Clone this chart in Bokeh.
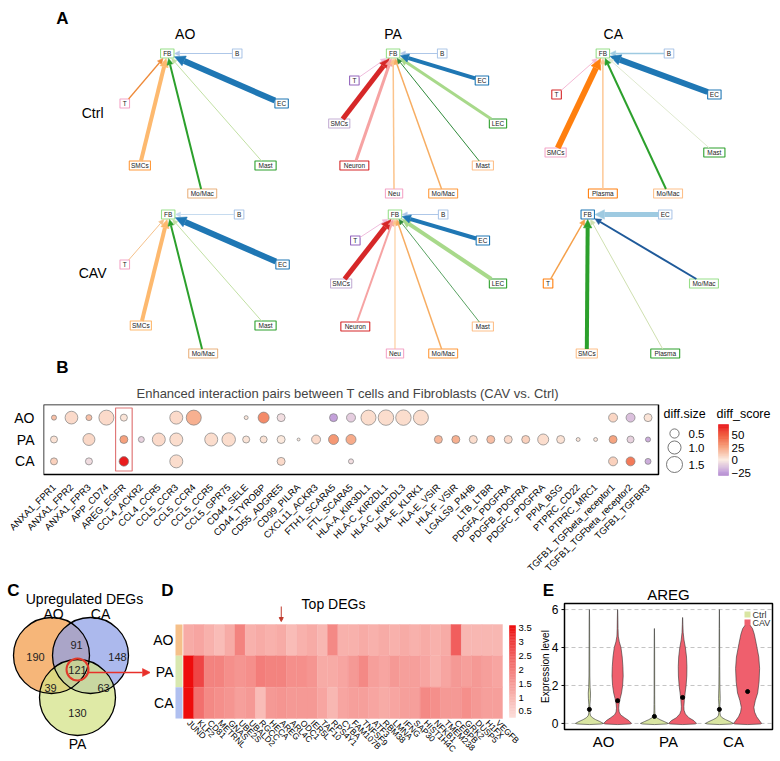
import math
from bokeh.plotting import figure
from bokeh.layouts import column, row
from bokeh.models import Range1d, Arrow, NormalHead, FixedTicker, ColumnDataSource
from bokeh.core.properties import value
from bokeh.transform import linear_cmap
from bokeh.embed import file_html
from bokeh.resources import INLINE

FONT = "Liberation Sans"

# ======================= DATA =======================
# --- Panel A: communication strength (edge weight) of each sender -> FB
A_cols = ["AO", "PA", "CA"]
A_rows = ["Ctrl", "CAV"]
A_ao_senders = ["B", "T", "EC", "SMCs", "Mo/Mac", "Mast"]
A_ao_ctrl = [1.0, 1.3, 6.0, 4.0, 2.0, 1.0]
A_ao_cav = [1.0, 1.0, 6.0, 4.0, 2.0, 1.0]
A_pa_senders = ["B", "T", "SMCs", "Neuron", "Neu", "Mo/Mac", "Mast", "LEC", "EC"]
A_pa_ctrl = [1.0, 1.0, 5.0, 3.0, 1.5, 1.5, 1.0, 3.0, 4.0]
A_pa_cav = [1.0, 1.0, 5.0, 2.0, 1.0, 1.5, 0.8, 4.0, 4.0]
A_ca_ctrl_senders = ["B", "T", "EC", "SMCs", "Mast", "Plasma", "Mo/Mac"]
A_ca_ctrl = [1.5, 1.0, 6.0, 6.0, 1.0, 1.5, 2.0]
A_ca_cav_senders = ["EC", "T", "Mo/Mac", "SMCs", "Plasma"]
A_ca_cav = [5.0, 1.5, 2.0, 4.0, 1.0]

# --- Panel B: enhanced interaction pairs
B_pairs = ["ANXA1_FPR1", "ANXA1_FPR2", "ANXA1_FPR3", "APP_CD74", "AREG_EGFR", "CCL4_ACKR2",
           "CCL4_CCR5", "CCL5_CCR3", "CCL5_CCR4", "CCL5_CCR5", "CCL5_GPR75", "CD44_SELE",
           "CD44_TYROBP", "CD55_ADGRE5", "CD99_PILRA", "CXCL11_ACKR3", "FTH1_SCARA5",
           "FTL_SCARA5", "HLA-A_KIR3DL1", "HLA-C_KIR2DL1", "HLA-C_KIR2DL3", "HLA-E_KLRK1",
           "HLA-E_VSIR", "HLA-F_VSIR", "LGALS9_P4HB", "LTB_LTBR", "PDGFA_PDGFRA",
           "PDGFB_PDGFRA", "PDGFC_PDGFRA", "PPIA_BSG", "PTPRC_CD22", "PTPRC_MRC1",
           "TGFB1_TGFbeta_receptor1", "TGFB1_TGFbeta_receptor2", "TGFB1_TGFBR3"]
B_rows = ["CA", "PA", "AO"]
B_ao_pairs = ["ANXA1_FPR1", "ANXA1_FPR2", "ANXA1_FPR3", "APP_CD74", "AREG_EGFR", "CCL5_CCR3",
              "CCL5_CCR4", "CD44_SELE", "CD44_TYROBP", "CD55_ADGRE5", "FTH1_SCARA5", "FTL_SCARA5",
              "HLA-A_KIR3DL1", "HLA-C_KIR2DL1", "HLA-C_KIR2DL3", "HLA-E_KLRK1",
              "TGFB1_TGFbeta_receptor1", "TGFB1_TGFbeta_receptor2", "TGFB1_TGFBR3"]
B_ao_size = [0.15, 0.95, 0.21, 1.32, 0.29, 0.99, 1.32, 0.09, 0.71, 0.375, 0.375, 0.47,
             1.32, 1.40, 1.40, 1.32, 0.47, 0.47, 0.375]
B_ao_score = [15, 6, 15, 6, 3, 6, 20, 2, 32, -4, -24, -10, 5, 5, 5, 5, 8, -14, 3]
B_pa_pairs = ["ANXA1_FPR1", "ANXA1_FPR3", "AREG_EGFR", "CCL4_ACKR2", "CCL4_CCR5", "CCL5_CCR3",
              "CCL5_CCR5", "CCL5_GPR75", "CD44_SELE", "CD44_TYROBP", "CD55_ADGRE5", "CD99_PILRA",
              "CXCL11_ACKR3", "FTH1_SCARA5", "FTL_SCARA5", "HLA-E_VSIR", "HLA-F_VSIR",
              "LGALS9_P4HB", "LTB_LTBR", "PDGFA_PDGFRA", "PDGFB_PDGFRA", "PDGFC_PDGFRA",
              "PPIA_BSG", "PTPRC_CD22", "PTPRC_MRC1", "TGFB1_TGFbeta_receptor1",
              "TGFB1_TGFbeta_receptor2", "TGFB1_TGFBR3"]
B_pa_size = [0.29, 0.84, 0.375, 0.21, 0.99, 0.99, 0.99, 1.07, 0.29, 0.29, 0.375, 0.05,
             0.47, 0.59, 0.59, 0.375, 0.375, 0.375, 0.375, 0.375, 0.375, 0.71, 0.375,
             0.09, 0.09, 0.375, 0.29, 0.15]
B_pa_score = [4, 7, 25, -8, 6, 5, 5, 5, 3, 4, 1, 0, 6, 28, 22, 18, 20, 5, 16, 6, 9, 5, 4,
              2, 2, 24, -8, -20]
B_ca_pairs = ["ANXA1_FPR1", "ANXA1_FPR3", "AREG_EGFR", "CCL5_CCR3", "CD55_ADGRE5",
              "FTL_SCARA5", "TGFB1_TGFbeta_receptor1", "TGFB1_TGFbeta_receptor2", "TGFB1_TGFBR3"]
B_ca_size = [0.29, 0.29, 0.53, 0.99, 0.375, 0.15, 0.47, 0.47, 0.21]
B_ca_score = [9, -5, 68, 5, 6, -4, 9, 38, -20]
B_size_legend = [0.5, 1.0, 1.5]
B_score_ticks = [50, 25, 0, -25]
B_score_low, B_score_high = -31, 71

# --- Panel C: Venn of upregulated DEGs
C_sets = ["AO", "CA", "PA"]
C_regions = ["AO", "CA", "PA", "AO&CA", "AO&PA", "CA&PA", "AO&CA&PA"]
C_counts = [190, 148, 130, 91, 39, 63, 121]

# --- Panel D: Top DEGs heatmap
D_genes = ["JUND", "KLF2", "CD81", "METRNL", "GNAS", "UBE2S", "UBALD2", "RGCC", "HECA",
           "AREG", "ARL4C", "ODC1", "IER5L", "TAF10", "RPS4Y1", "CYBA", "FAM107B", "TNFSF9",
           "ATF3", "RBM38", "LMNA", "IFNG", "SAP30", "HIST1H4C", "NFKB1", "TMEM238", "CEBPB",
           "GRK2", "DUSP5", "H1FX", "VEGFB"]
D_rows = ["AO", "PA", "CA"]
D_ao = [1.2, 1.3, 1.1, 0.9, 1.2, 1.9, 1.1, 1.2, 1.1, 1.2, 0.9, 1.1, 1.2, 1.0, 1.8, 1.1,
        1.1, 1.2, 1.1, 1.2, 1.1, 1.2, 1.1, 1.2, 1.1, 1.2, 2.5, 1.0, 1.0, 1.0, 1.0]
D_pa = [3.6, 2.9, 1.9, 1.9, 1.7, 1.6, 1.7, 2.0, 1.9, 1.9, 1.7, 1.7, 1.6, 1.2, 1.2, 1.3,
        1.5, 1.8, 1.4, 1.3, 1.5, 1.4, 1.4, 1.3, 1.1, 1.3, 1.5, 1.4, 1.5, 1.4, 1.3]
D_ca = [3.6, 2.2, 1.8, 1.7, 1.6, 1.4, 1.5, 0.9, 1.5, 1.6, 1.5, 1.5, 1.5, 1.3, 1.0, 1.3,
        1.4, 1.4, 1.3, 1.2, 1.3, 1.4, 1.4, 1.8, 1.7, 1.5, 1.5, 1.7, 1.5, 1.4, 1.4]
D_low, D_high = 0.28, 3.6
D_ticks = [3.5, 3.0, 2.5, 2.0, 1.5, 1.0, 0.5]

# --- Panel E: AREG violin (expression level)
E_groups = ["AO", "PA", "CA"]
E_conds = ["Ctrl", "CAV"]
E_yticks = [0, 2, 4, 6]
E_ao_ctrl_y = [-0.06, -0.03, 0.0, 0.1, 0.2, 0.3, 0.4, 0.5, 0.7, 1.0, 1.3, 1.6, 1.9, 2.5, 3.5, 4.5, 5.5, 6.0]
E_ao_ctrl_w = [0.0, 0.85, 1.0, 0.75, 0.45, 0.22, 0.09, 0.05, 0.035, 0.04, 0.07, 0.08, 0.05, 0.03, 0.025, 0.02, 0.015, 0.005]
E_pa_ctrl_y = [-0.06, -0.03, 0.0, 0.1, 0.2, 0.3, 0.4, 0.5, 0.7, 1.0, 1.5, 2.5, 3.5, 4.5, 5.0]
E_pa_ctrl_w = [0.0, 0.85, 1.0, 0.7, 0.4, 0.16, 0.07, 0.04, 0.03, 0.025, 0.02, 0.02, 0.018, 0.012, 0.005]
E_ca_ctrl_y = [-0.06, -0.03, 0.0, 0.1, 0.2, 0.3, 0.4, 0.5, 0.7, 1.0, 1.3, 1.6, 2.0, 3.0, 4.0, 5.0, 6.0]
E_ca_ctrl_w = [0.0, 0.85, 1.0, 0.75, 0.45, 0.2, 0.08, 0.05, 0.035, 0.04, 0.06, 0.05, 0.035, 0.025, 0.02, 0.015, 0.005]
E_ao_cav_y = [-0.06, -0.03, 0.0, 0.15, 0.3, 0.45, 0.6, 0.8, 1.0, 1.3, 1.6, 2.0, 2.5, 3.0, 3.5, 4.0, 4.3, 4.6, 5.0, 5.5, 6.0]
E_ao_cav_w = [0.0, 0.9, 1.0, 0.8, 0.5, 0.22, 0.11, 0.08, 0.1, 0.18, 0.28, 0.36, 0.4, 0.38, 0.33, 0.24, 0.12, 0.05, 0.03, 0.02, 0.005]
E_pa_cav_y = [-0.06, -0.03, 0.0, 0.15, 0.3, 0.5, 0.7, 0.9, 1.2, 1.6, 2.0, 2.5, 3.0, 3.5, 4.0, 4.4, 4.8, 5.2, 5.58]
E_pa_cav_w = [0.0, 0.9, 1.0, 0.8, 0.45, 0.2, 0.1, 0.09, 0.12, 0.18, 0.25, 0.3, 0.31, 0.28, 0.2, 0.1, 0.04, 0.02, 0.005]
E_ca_cav_y = [-0.06, -0.03, 0.0, 0.15, 0.35, 0.6, 0.85, 1.2, 1.6, 2.2, 2.9, 3.5, 4.2, 4.7, 5.0, 5.2, 5.26]
E_ca_cav_w = [0.0, 0.92, 1.0, 0.85, 0.65, 0.5, 0.45, 0.55, 0.72, 0.82, 0.86, 0.8, 0.62, 0.48, 0.35, 0.15, 0.02]
E_ctrl_median = [0.74, 0.37, 0.74]
E_cav_median = [1.20, 1.37, 1.68]


# ======================= HELPERS =======================
def hex2rgb(h):
    return tuple(int(h[i:i + 2], 16) for i in (1, 3, 5))


def ramp(stops, n=128):
    out = []
    for k in range(n):
        t = k / (n - 1)
        for (p0, c0), (p1, c1) in zip(stops, stops[1:]):
            if p0 <= t <= p1:
                f = (t - p0) / (p1 - p0) if p1 > p0 else 0.0
                a, b = hex2rgb(c0), hex2rgb(c1)
                out.append("#%02x%02x%02x" % tuple(round(a[j] + (b[j] - a[j]) * f) for j in range(3)))
                break
    return out


def blank(width, height, xr, yr):
    p = figure(width=width, height=height, x_range=Range1d(*xr), y_range=Range1d(*yr),
               output_backend="svg", toolbar_location=None, min_border=0, title=None,
               x_axis_location=None, y_axis_location=None, outline_line_color=None)
    p.grid.visible = False
    return p


def txt(p, x, y, t, size, align="center", bold=False, color="black", baseline="middle", angle=0.0):
    p.text(x=x, y=y, text=t, text_align=align, text_baseline=baseline, angle=angle,
           text_font=value(FONT), text_font_size=size, text_color=color,
           text_font_style="bold" if bold else "normal")


# ======================= PANEL A =======================
pA = blank(780, 376, (0, 780), (376, 0))

networks = [
    dict(fb=(131, 53), fb_box="#98df8a", senders=A_ao_senders, w=A_ao_ctrl,
         pos=[(205, 53), (86, 103), (252, 103), (102, 165), (168, 193), (235, 165)],
         box=["#aec7e8", "#f4a6c8", "#1f77b4", "#ff9a3c", "#e9b27f", "#2ca02c"],
         edge=["#aec7e8", "#ee8a3a", "#1f77b4", "#fdb96f", "#2ca02c", "#c2e0a4"]),
    dict(fb=(370, 53), fb_box="#98df8a", senders=A_pa_senders, w=A_pa_ctrl,
         pos=[(422, 53), (329, 80), (313, 123), (329, 165), (371, 193), (423, 193),
              (465, 165), (481, 123), (464, 80)],
         box=["#aec7e8", "#9467bd", "#c5b0d5", "#d62728", "#f4a6c8", "#ff9a3c", "#fdc08a",
              "#2ca02c", "#1f77b4"],
         edge=["#aec7e8", "#efbcdc", "#d62728", "#f6a3a3", "#fcc48c", "#f7ad62", "#2f8a3a",
               "#a8d98a", "#1f77b4"]),
    dict(fb=(592, 53), fb_box="#98df8a", senders=A_ca_ctrl_senders, w=A_ca_ctrl,
         pos=[(662, 53), (543, 94), (710, 94), (542, 152), (710, 152), (592, 193), (661, 193)],
         box=["#aec7e8", "#d62728", "#1f77b4", "#f4a6c8", "#2ca02c", "#ff7f0e", "#fdc08a"],
         edge=["#9ecae1", "#f4b8d4", "#1f77b4", "#ff7f0e", "#dfe9cf", "#fdc896", "#2ca02c"]),
    dict(fb=(132, 214), fb_box="#98df8a", senders=A_ao_senders, w=A_ao_cav,
         pos=[(207, 214), (86, 264), (253, 264), (103, 325), (169, 353), (235, 325)],
         box=["#aec7e8", "#f4a6c8", "#1f77b4", "#fdb96f", "#e9b27f", "#2ca02c"],
         edge=["#c6dbef", "#f5c08a", "#1f77b4", "#fdb96f", "#2ca02c", "#c2e0a4"]),
    dict(fb=(372, 214), fb_box="#98df8a", senders=A_pa_senders, w=A_pa_cav,
         pos=[(423, 214), (330, 240), (315, 283), (330, 326), (372, 353), (423, 353),
              (465, 326), (481, 283), (465, 240)],
         box=["#aec7e8", "#9467bd", "#c5b0d5", "#d62728", "#f4a6c8", "#ff9a3c", "#fdc08a",
              "#2ca02c", "#1f77b4"],
         edge=["#aec7e8", "#efbcdc", "#d62728", "#f6a3a3", "#fcc48c", "#f7ad62", "#2f8a3a",
               "#a8d98a", "#1f77b4"]),
    dict(fb=(576, 214), fb_box="#1f77b4", senders=A_ca_cav_senders, w=A_ca_cav,
         pos=[(658, 214), (534, 283), (699, 283), (575, 353), (658, 353)],
         box=["#aec7e8", "#ff7f0e", "#98df8a", "#fdc08a", "#2ca02c"],
         edge=["#9ecae1", "#f5a04a", "#1f5a9a", "#2ca02c", "#cfe0b0"]),
]


def bw(label):
    return 4.1 * len(label) + 6


def box_exit(cx, cy, ux, uy, hw, hh):
    tx = hw / abs(ux) if abs(ux) > 1e-9 else 1e9
    ty = hh / abs(uy) if abs(uy) > 1e-9 else 1e9
    t = min(tx, ty)
    return cx + ux * t, cy + uy * t


for net in networks:
    fx, fy = net["fb"]
    for lab, (sx, sy), ec, w in zip(net["senders"], net["pos"], net["edge"], net["w"]):
        d = math.hypot(fx - sx, fy - sy)
        ux, uy = (fx - sx) / d, (fy - sy) / d
        x0, y0 = box_exit(sx, sy, ux, uy, bw(lab) / 2, 4.5)
        x1, y1 = box_exit(fx, fy, -ux, -uy, bw("FB") / 2 + 0.5, 5.0)
        pA.add_layout(Arrow(x_start=x0, y_start=y0, x_end=x1, y_end=y1,
                            line_color=ec, line_width=w,
                            end=NormalHead(size=4 + 1.1 * w, fill_color=ec, line_color=ec,
                                           line_width=0.5)))
    labs = ["FB"] + list(net["senders"])
    xs = [fx] + [p[0] for p in net["pos"]]
    ys = [fy] + [p[1] for p in net["pos"]]
    cols = [net["fb_box"]] + list(net["box"])
    pA.rect(x=xs, y=ys, width=[bw(l) for l in labs], height=9, fill_color="white",
            line_color=cols, line_width=1.1)
    txt(pA, xs, ys, labs, "6.5px", color="#222222")

txt(pA, [20], [18], ["A"], "17px", bold=True)
txt(pA, [150, 370, 603], [33, 33, 33], A_cols, "14px")
txt(pA, [52, 52], [112, 272], A_rows, "14px")
txt(pA, [20], [367], ["B"], "17px", bold=True)

# ======================= PANEL B =======================
NPAIR = len(B_pairs)
PXU = 615.0 / (NPAIR + 0.2)     # px per category unit (box 43..658)
PYU = 70.0 / 3.2                # px per row unit (box 404..474)


def bx(r):
    return -0.6 + (r - 43) / PXU


def by(r):
    return -0.6 + (474 - r) / PYU


b_pal = ramp([(0.0, "#b48ad0"), (6 / 102, "#c29fda"), (31 / 102, "#fcece2"),
              (56 / 102, "#f6a27e"), (81 / 102, "#f05638"), (1.0, "#e8141a")], 128)


def dot_d(v):
    return 16 * math.sqrt(v / 1.5)


b_x, b_y, b_s, b_c = [], [], [], []
for rname, prs, sz, sc in (("AO", B_ao_pairs, B_ao_size, B_ao_score),
                           ("PA", B_pa_pairs, B_pa_size, B_pa_score),
                           ("CA", B_ca_pairs, B_ca_size, B_ca_score)):
    b_x += [B_pairs.index(pr) for pr in prs]
    b_y += [B_rows.index(rname)] * len(prs)
    b_s += [dot_d(v) for v in sz]
    b_c += sc
b_src = ColumnDataSource(dict(x=b_x, y=b_y, d=b_s, score=b_c))

pB = figure(width=780, height=206, output_backend="svg", toolbar_location=None,
            x_range=Range1d(-0.6, bx(780)), y_range=Range1d(by(478), 2.6),
            min_border_left=43, min_border_right=0, min_border_top=28, min_border_bottom=104,
            title="Enhanced interaction pairs between T cells and Fibroblasts (CAV vs. Ctrl)")
pB.title.align = "left"
pB.title.offset = 93
pB.title.standoff = 7
pB.title.text_font = FONT
pB.title.text_font_size = "13px"
pB.title.text_font_style = "normal"
pB.grid.visible = False
pB.outline_line_color = None
pB.xaxis.ticker = FixedTicker(ticks=list(range(NPAIR)))
pB.xaxis.major_label_overrides = {i: pr for i, pr in enumerate(B_pairs)}
pB.yaxis.ticker = FixedTicker(ticks=[0, 1, 2])
pB.yaxis.major_label_overrides = {i: r for i, r in enumerate(B_rows)}
for ax in (pB.xaxis, pB.yaxis):
    ax.axis_line_color = None
    ax.major_tick_line_color = None
    ax.minor_tick_line_color = None
    ax.major_label_text_font = FONT
    ax.major_label_text_color = "black"
    ax.major_label_standoff = 1
pB.xaxis.major_label_orientation = math.pi / 4
pB.xaxis.major_label_text_font_size = "9.5px"
pB.yaxis.major_label_text_font_size = "14px"
pB.yaxis.major_label_standoff = 3
# plot box
pB.rect(x=(NPAIR - 1) / 2, y=1, width=NPAIR + 0.2, height=3.2, fill_color=None,
        line_color="black", line_width=1.5)
ia = B_pairs.index("AREG_EGFR")
pB.rect(x=[ia], y=[1], width=0.95, height=2.88, fill_color=None,
        line_color="#e07878", line_width=1.2)
pB.scatter(x="x", y="y", size="d", source=b_src,
           fill_color=linear_cmap("score", b_pal, B_score_low, B_score_high),
           line_color="#7f7f7f", line_width=0.7)
# legends (inside frame, right of the box)
txt(pB, [bx(663)], [by(413)], ["diff.size"], "12.5px", align="left")
txt(pB, [bx(716)], [by(413)], ["diff_score"], "12.5px", align="left")
leg_y = [by(433), by(447), by(464)]
pB.scatter(x=[bx(674)] * 3, y=leg_y, size=[dot_d(v) for v in B_size_legend],
           fill_color="white", line_color="#555555", line_width=0.8)
txt(pB, [bx(688)] * 3, leg_y, ["%.1f" % v for v in B_size_legend], "11.5px", align="left")
cb_top, cb_bot = 424.0, 475.0


def cbv(v):
    return by(cb_bot - (v - B_score_low) / (B_score_high - B_score_low) * (cb_bot - cb_top))


nseg = 60
seg_b, seg_t, seg_c = [], [], []
for k in range(nseg):
    v0 = B_score_low + (B_score_high - B_score_low) * k / nseg
    v1 = B_score_low + (B_score_high - B_score_low) * (k + 1) / nseg
    seg_b.append(cbv(v0))
    seg_t.append(cbv(v1))
    seg_c.append(b_pal[min(127, int(k / nseg * 128))])
pB.quad(left=bx(718), right=bx(728), bottom=seg_b, top=seg_t, fill_color=seg_c,
        line_color=seg_c, line_width=0.5)
txt(pB, [bx(731)] * 4, [cbv(t) for t in B_score_ticks],
    [str(t).replace("-", "\u2212") for t in B_score_ticks], "11.5px", align="left")

# ======================= PANEL C =======================
ROW3_TOP, PAGE_B = 582, 761
pC = blank(150, PAGE_B - ROW3_TOP, (0, 150), (PAGE_B, ROW3_TOP))
venn_pos = [(51, 655), (90, 655), (77, 697)]
venn_fill = ["#f39a45", "#8c9ee6", "#d3e283"]
for (cx, cy), fc in zip(venn_pos, venn_fill):
    pC.circle(x=[cx], y=[cy], radius=38, fill_color=fc, fill_alpha=0.72, line_color=None)
pC.circle(x=[p[0] for p in venn_pos], y=[p[1] for p in venn_pos], radius=38,
          fill_color=None, line_color="black", line_width=1.3)
region_pos = [(35, 656), (117, 656), (77, 712), (76, 644), (50, 687), (103, 687), (77, 669)]
pC.circle(x=[region_pos[6][0]], y=[region_pos[6][1]], radius=11, fill_color=None,
          line_color="#e03a2a", line_width=2)
pC.add_layout(Arrow(x_start=88, y_start=672, x_end=150, y_end=672, line_color="#e8302a",
                    line_width=1.5, end=NormalHead(size=8, fill_color="#e8302a",
                                                   line_color="#e8302a", line_width=0.5)))
txt(pC, [p[0] for p in region_pos], [p[1] for p in region_pos], [str(c) for c in C_counts],
    "11px", color="#222222")
txt(pC, [53, 100, 77], [613, 613, 743], C_sets, "14px")
txt(pC, [84], [598], ["Upregulated DEGs"], "14px")
txt(pC, [13], [590], ["C"], "17px", bold=True)

# ======================= PANEL D =======================
HM_L, HM_R, HM_T, HM_B = 183.0, 502.0, 624.0, 718.0
COLW = (HM_R - HM_L) / len(D_genes)
ROWH = (HM_B - HM_T) / 3


def dx(r):
    return -0.5 + (r - HM_L) / COLW


def dy(r):
    return -0.5 + (HM_B - r) / ROWH


h_pal = ramp([(0.0, "#fcdcd8"), (0.217, "#f8b6b1"), (0.518, "#f37d7a"), (0.819, "#ef4040"),
              (1.0, "#ee0c0c")], 128)
hx, hy, hv = [], [], []
row_y = {"AO": 2, "PA": 1, "CA": 0}
for rname, vals in (("AO", D_ao), ("PA", D_pa), ("CA", D_ca)):
    for i, v in enumerate(vals):
        hx.append(i)
        hy.append(row_y[rname])
        hv.append(v)
h_src = ColumnDataSource(dict(x=hx, y=hy, v=hv))

pD = blank(382, PAGE_B - ROW3_TOP, (dx(150), dx(532)), (dy(PAGE_B), dy(ROW3_TOP)))
hmap = linear_cmap("v", h_pal, D_low, D_high)
pD.rect(x="x", y="y", width=1, height=1, source=h_src, fill_color=hmap, line_color=hmap,
        line_width=0.4)
txt(pD, list(range(len(D_genes))), [dy(721)] * len(D_genes), D_genes, "8.5px",
    align="left", angle=-math.pi / 4)
pD.rect(x=dx(178.5), y=[2, 1, 0], width=7 / COLW, height=1,
        fill_color=["#f5c08a", "#d8e8b0", "#b0c0f0"], line_color=None)
txt(pD, [dx(173)] * 3, [2, 1, 0], D_rows, "14px", align="right")
cb_b, cb_t = dy(717), dy(625)


def cyv(v):
    return cb_b + (v - D_low) / (D_high - D_low) * (cb_t - cb_b)


qb, qt, qc = [], [], []
for k in range(60):
    v0 = D_low + (D_high - D_low) * k / 60
    v1 = D_low + (D_high - D_low) * (k + 1) / 60
    qb.append(cyv(v0))
    qt.append(cyv(v1))
    qc.append(h_pal[min(127, int(k / 60 * 128))])
pD.quad(left=dx(509), right=dx(515), bottom=qb, top=qt, fill_color=qc, line_color=qc,
        line_width=0.5)
txt(pD, [dx(518)] * len(D_ticks), [cyv(t) for t in D_ticks],
    [("%g" % t) for t in D_ticks], "9.5px", align="left")
txt(pD, [dx(333)], [dy(603)], ["Top DEGs"], "14px")
txt(pD, [dx(167)], [dy(590)], ["D"], "17px", bold=True)
ai = D_genes.index("AREG")
pD.add_layout(Arrow(x_start=ai, y_start=dy(606), x_end=ai, y_end=dy(621),
                    line_color="#c0392b", line_width=1,
                    end=NormalHead(size=4, fill_color="#c0392b", line_color="#c0392b")))

# ======================= PANEL E =======================
E_X0, E_X1, E_Y0, E_Y1 = 0.4, 3.6, -0.32, 6.32
PXE = (772 - 564) / (E_X1 - E_X0)
PYE = (729 - 603) / (E_Y1 - E_Y0)


def ex(r):
    return E_X0 + (r - 564) / PXE


def ey(r):
    return E_Y0 + (729 - r) / PYE


pE = blank(248, PAGE_B - ROW3_TOP, (ex(532), ex(780)), (ey(PAGE_B), ey(ROW3_TOP)))
pE.segment(x0=E_X0, x1=E_X1, y0=E_yticks, y1=E_yticks, line_color="#c4c4c4",
           line_dash="4 3", line_width=1)
HW, DODGE = 0.215, 0.217


def vpatch(center, ys, ws):
    xr = [center + HW * w for w in ws]
    xl = [center - HW * w for w in ws]
    return xr + xl[::-1], list(ys) + list(ys)[::-1]


ctrl_xs, ctrl_ys, cav_xs, cav_ys = [], [], [], []
for gi, (cy_, cw_, vy_, vw_) in enumerate(((E_ao_ctrl_y, E_ao_ctrl_w, E_ao_cav_y, E_ao_cav_w),
                                          (E_pa_ctrl_y, E_pa_ctrl_w, E_pa_cav_y, E_pa_cav_w),
                                          (E_ca_ctrl_y, E_ca_ctrl_w, E_ca_cav_y, E_ca_cav_w))):
    a, b = vpatch(gi + 1 - DODGE, cy_, cw_)
    ctrl_xs.append(a)
    ctrl_ys.append(b)
    a, b = vpatch(gi + 1 + DODGE, vy_, vw_)
    cav_xs.append(a)
    cav_ys.append(b)
CTRL_C, CAV_C = "#d9e5a2", "#ef5f6d"
pE.patches(xs=ctrl_xs, ys=ctrl_ys, fill_color=CTRL_C, line_color="#333333", line_width=0.6)
pE.patches(xs=cav_xs, ys=cav_ys, fill_color=CAV_C, line_color="#333333", line_width=0.6)
pE.scatter(x=[g - DODGE for g in (1, 2, 3)], y=E_ctrl_median, size=4, color="black")
pE.scatter(x=[g + DODGE for g in (1, 2, 3)], y=E_cav_median, size=4, color="black")
pE.rect(x=(E_X0 + E_X1) / 2, y=(E_Y0 + E_Y1) / 2, width=E_X1 - E_X0, height=E_Y1 - E_Y0,
        fill_color=None, line_color="black", line_width=1.5)
pE.segment(x0=ex(561), x1=E_X0, y0=E_yticks, y1=E_yticks, line_color="black", line_width=1)
txt(pE, [ex(558)] * 4, E_yticks, [str(t) for t in E_yticks], "12px", align="right")
txt(pE, [ex(545)], [(E_Y0 + E_Y1) / 2], ["Expression level"], "10px", angle=math.pi / 2)
txt(pE, [1, 2, 3], [ey(741)] * 3, E_groups, "15px")
txt(pE, [ex(668)], [ey(594)], ["AREG"], "15px")
txt(pE, [ex(548)], [ey(590)], ["E"], "17px", bold=True)
pE.rect(x=ex(747), y=[ey(614), ey(622)], width=6 / PXE, height=6 / PYE,
        fill_color=[CTRL_C, CAV_C], line_color=None)
txt(pE, [ex(752)] * 2, [ey(614), ey(622)], E_conds, "9px", align="left", color="#333333")

layout = column(pA, pB, row(pC, pD, pE))
open("out.html", "w").write(file_html(layout, INLINE))
